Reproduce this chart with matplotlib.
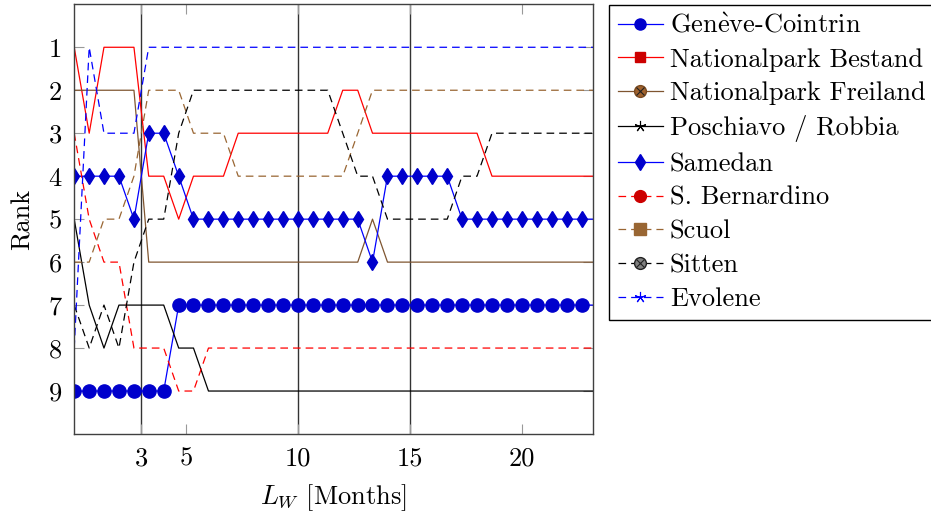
import matplotlib
matplotlib.use("Agg")
import matplotlib.pyplot as plt
from matplotlib.lines import Line2D
from matplotlib.legend_handler import HandlerTuple

plt.rcParams["font.family"] = "cmr10"
plt.rcParams["mathtext.fontset"] = "cm"
plt.rcParams["axes.unicode_minus"] = False
plt.rcParams["lines.scale_dashes"] = False

# Window length L_W in months (one sample every 2/3 month)
months = [0, 0.67, 1.33, 2, 2.67, 3.33, 4, 4.67, 5.33, 6, 6.67, 7.33,
          8, 8.67, 9.33, 10, 10.67, 11.33, 12, 12.67, 13.33, 14, 14.67, 15.33,
          16, 16.67, 17.33, 18, 18.67, 19.33, 20, 20.67, 21.33, 22, 22.67, 23.33]

# Rank of each station for every window length
geneve = [9, 9, 9, 9, 9, 9, 9, 7, 7, 7, 7, 7, 7, 7, 7, 7, 7, 7,
          7, 7, 7, 7, 7, 7, 7, 7, 7, 7, 7, 7, 7, 7, 7, 7, 7, 7]
np_bestand = [1, 3, 1, 1, 1, 4, 4, 5, 4, 4, 4, 3, 3, 3, 3, 3, 3, 3,
              2, 2, 3, 3, 3, 3, 3, 3, 3, 3, 4, 4, 4, 4, 4, 4, 4, 4]
np_freiland = [2, 2, 2, 2, 2, 6, 6, 6, 6, 6, 6, 6, 6, 6, 6, 6, 6, 6,
               6, 6, 5, 6, 6, 6, 6, 6, 6, 6, 6, 6, 6, 6, 6, 6, 6, 6]
poschiavo = [5, 7, 8, 7, 7, 7, 7, 8, 8, 9, 9, 9, 9, 9, 9, 9, 9, 9,
             9, 9, 9, 9, 9, 9, 9, 9, 9, 9, 9, 9, 9, 9, 9, 9, 9, 9]
samedan = [4, 4, 4, 4, 5, 3, 3, 4, 5, 5, 5, 5, 5, 5, 5, 5, 5, 5,
           5, 5, 6, 4, 4, 4, 4, 4, 5, 5, 5, 5, 5, 5, 5, 5, 5, 5]
bernardino = [3, 5, 6, 6, 8, 8, 8, 9, 9, 8, 8, 8, 8, 8, 8, 8, 8, 8,
              8, 8, 8, 8, 8, 8, 8, 8, 8, 8, 8, 8, 8, 8, 8, 8, 8, 8]
scuol = [6, 6, 5, 5, 4, 2, 2, 2, 3, 3, 3, 4, 4, 4, 4, 4, 4, 4,
         4, 3, 2, 2, 2, 2, 2, 2, 2, 2, 2, 2, 2, 2, 2, 2, 2, 2]
sitten = [7, 8, 7, 8, 6, 5, 5, 3, 2, 2, 2, 2, 2, 2, 2, 2, 2, 2,
          3, 4, 4, 5, 5, 5, 5, 5, 4, 4, 3, 3, 3, 3, 3, 3, 3, 3]
evolene = [8, 1, 3, 3, 3, 1, 1, 1, 1, 1, 1, 1, 1, 1, 1, 1, 1, 1,
           1, 1, 1, 1, 1, 1, 1, 1, 1, 1, 1, 1, 1, 1, 1, 1, 1, 1]

labels = ["Gen$\\grave{\\rm e}$ve-Cointrin", "Nationalpark Bestand",
          "Nationalpark Freiland", "Poschiavo / Robbia", "Samedan",
          "S. Bernardino", "Scuol", "Sitten", "Evolene"]
series = [geneve, np_bestand, np_freiland, poschiavo, samedan,
          bernardino, scuol, sitten, evolene]

x_ticks = [3, 5, 10, 15, 20]
y_ticks = [1, 2, 3, 4, 5, 6, 7, 8, 9]
marked_months = [3, 10, 15]

BLUE = "#0000ff"
MBLUE = "#0000cc"
RED = "#ff0000"
BROWN = "#7f5530"
LBROWN = "#996633"
DASH = (0, (5.5, 3.6))
FS = 19

styles = [
    dict(color=BLUE, ls="-", marker="o", ms=9.5, mfc=MBLUE, mec=MBLUE),
    dict(color=RED, ls="-"),
    dict(color=BROWN, ls="-"),
    dict(color="black", ls="-"),
    dict(color=BLUE, ls="-", marker="d", ms=8.5, mfc=MBLUE, mec=MBLUE),
    dict(color=RED, ls=DASH),
    dict(color=LBROWN, ls=DASH),
    dict(color="black", ls=DASH),
    dict(color=BLUE, ls=DASH),
]

fig = plt.figure(figsize=(9.31, 5.16), dpi=100)
ax = fig.add_axes([74.2 / 931, (516 - 434) / 516, (592.7 - 74.2) / 931, (434 - 4.3) / 516])

for xv in marked_months:
    ax.axvline(xv, color="#333333", lw=1.0, zorder=0.5)

for vals, st in zip(series, styles):
    kw = dict(st)
    if "marker" in kw:
        kw["markevery"] = slice(0, len(months) - 1)
    ax.plot(months, vals, lw=0.9, zorder=2, **kw)

ax.set_xlim(0, 23.17)
ax.set_ylim(10, 0)
ax.set_xticks(x_ticks)
ax.set_xticklabels([str(v) for v in x_ticks])
ax.set_yticks(y_ticks)
ax.set_yticklabels([str(v) for v in y_ticks])
ax.tick_params(axis="both", direction="in", length=7.5, width=0.8,
               color="#999999", top=True, right=True, labelsize=FS)
ax.tick_params(axis="x", pad=9)
ax.tick_params(axis="y", pad=9)
for sp in ax.spines.values():
    sp.set_color("#404040")
    sp.set_linewidth(1.0)

ax.set_xlabel("$L_W$ [Months]", fontsize=FS, labelpad=9)
ax.set_ylabel("Rank", fontsize=FS, labelpad=10)

# Legend entries carry the marker of every series
def h(color, ls, **kw):
    return Line2D([], [], color=color, ls=ls, lw=0.9, **kw)

otimes_x = dict(ls="none", marker="x", ms=5.5, mec="#222222", mew=0.8)
handles = [
    h(BLUE, "-", marker="o", ms=8, mfc=MBLUE, mec=MBLUE),
    h(RED, "-", marker="s", ms=7.5, mfc="#cc0000", mec="#cc0000"),
    (h(BROWN, "-", marker="o", ms=8.5, mfc="#a0622d", mec="#7a4a20"),
     Line2D([], [], **otimes_x)),
    h("black", "-", marker=(5, 2, 0), ms=8, mec="black", mew=0.8),
    h(BLUE, "-", marker="d", ms=8, mfc=MBLUE, mec=MBLUE),
    h(RED, DASH, marker="o", ms=8.5, mfc="#cc0000", mec="#cc0000"),
    h(LBROWN, DASH, marker="s", ms=8, mfc="#996633", mec="#996633"),
    (h("black", DASH, marker="o", ms=8.5, mfc="#808080", mec="#222222"),
     Line2D([], [], **otimes_x)),
    h(BLUE, DASH, marker=(5, 2, 0), ms=8, mec=BLUE, mew=0.8),
]
leg = ax.legend(handles, labels, loc="upper left",
                bbox_to_anchor=(609 / 931, 1 - 4.5 / 516),
                bbox_transform=fig.transFigure, borderaxespad=0,
                frameon=True, fancybox=False, edgecolor="black",
                framealpha=1, fontsize=FS, handlelength=1.7,
                handletextpad=0.27, borderpad=0.34, labelspacing=0.38,
                handler_map={tuple: HandlerTuple(ndivide=1, pad=0)})
leg.get_frame().set_linewidth(1.0)

fig.savefig("out.png", dpi=100)
